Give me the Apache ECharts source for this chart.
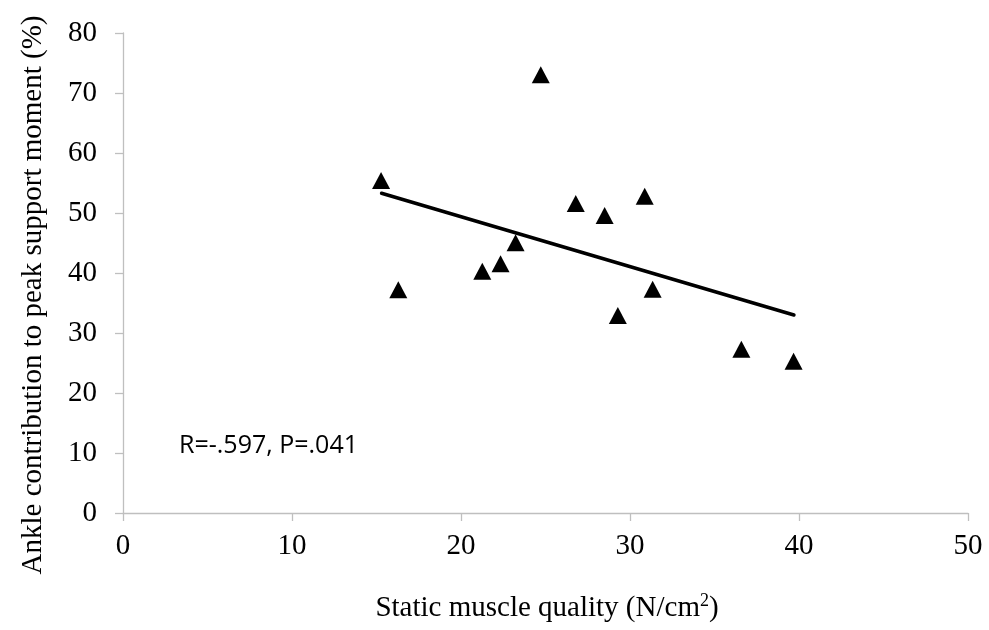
<!DOCTYPE html>
<html>
<head>
<meta charset="utf-8">
<script src="https://cdn.jsdelivr.net/npm/echarts@6/dist/echarts.min.js"></script>
<style>html,body{margin:0;padding:0;background:#fff}#c{width:989px;height:630px}</style>
</head>
<body>
<div id="c"></div>
<script>
// Static muscle quality (N/cm2)
var xValues = [15.27, 16.29, 21.26, 22.34, 23.23, 24.72, 26.79, 28.5, 29.28, 30.87, 31.34, 36.59, 39.68];
// Ankle contribution to peak support moment (%)
var yValues = [55.4, 37.2, 40.3, 41.55, 45.05, 73.05, 51.6, 49.6, 32.9, 52.8, 37.3, 27.3, 25.3];
// Linear trendline endpoints
var trendX = [15.3, 39.7];
var trendY = [53.3, 33.0];
var xTicks = [0, 10, 20, 30, 40, 50];
var yTicks = [0, 10, 20, 30, 40, 50, 60, 70, 80];
var statText = 'R=-.597, P=.041';
var xTitle = 'Static muscle quality (N/cm';
var xTitleSup = '2';
var yTitle = 'Ankle contribution to peak support moment (%)';

var pts = xValues.map(function (x, i) { return [x, yValues[i]]; });
var trend = trendX.map(function (x, i) { return [x, trendY[i]]; });

var chart = echarts.init(document.getElementById('c'));
var serif = '"Liberation Serif", "Times New Roman", serif';
var axisGray = '#BFBFBF';
chart.setOption({
  backgroundColor: '#fff',
  animation: false,
  grid: { left: 123, right: 21, top: 33, bottom: 117, containLabel: false },
  xAxis: {
    type: 'value', min: xTicks[0], max: xTicks[xTicks.length - 1], interval: 10,
    axisLine: { show: true, onZero: false, lineStyle: { color: axisGray, width: 1.3 } },
    axisTick: { show: true, inside: false, length: 8, lineStyle: { color: axisGray, width: 1.3 } },
    splitLine: { show: false },
    axisLabel: { color: '#000', fontFamily: serif, fontSize: 29, margin: 19 }
  },
  yAxis: {
    type: 'value', min: yTicks[0], max: yTicks[yTicks.length - 1], interval: 10,
    axisLine: { show: true, onZero: false, lineStyle: { color: axisGray, width: 1.3 } },
    axisTick: { show: true, inside: false, length: 8, lineStyle: { color: axisGray, width: 1.3 } },
    splitLine: { show: false },
    axisLabel: { color: '#000', fontFamily: serif, fontSize: 29, margin: 26 }
  },
  graphic: [
    {
      type: 'text', left: 179, top: 433,
      style: { text: statText, fill: '#000', font: '25px "Open Sans", sans-serif' }
    },
    {
      type: 'text', x: 547, y: 608,
      style: {
        text: '{m|' + xTitle + '}{s|' + xTitleSup + '}{m|)}',
        align: 'center', verticalAlign: 'middle',
        rich: {
          m: { fontFamily: serif, fontSize: 29, fill: '#000', color: '#000' },
          s: { fontFamily: serif, fontSize: 18, fill: '#000', color: '#000', padding: [0, 0, 14, 0] }
        }
      }
    },
    {
      type: 'text', x: 33, y: 295, rotation: Math.PI / 2,
      style: {
        text: yTitle, align: 'center', verticalAlign: 'middle',
        fill: '#000', font: '29px "Liberation Serif", "Times New Roman", serif'
      }
    }
  ],
  series: [
    {
      type: 'line', data: trend, showSymbol: false, symbol: 'none',
      lineStyle: { color: '#000', width: 3.5, cap: 'round', opacity: 1 }, z: 2
    },
    {
      type: 'scatter', data: pts, symbol: 'triangle', symbolSize: [18, 17],
      itemStyle: { color: '#000', opacity: 1 }, z: 3
    }
  ]
});
</script>
</body>
</html>
